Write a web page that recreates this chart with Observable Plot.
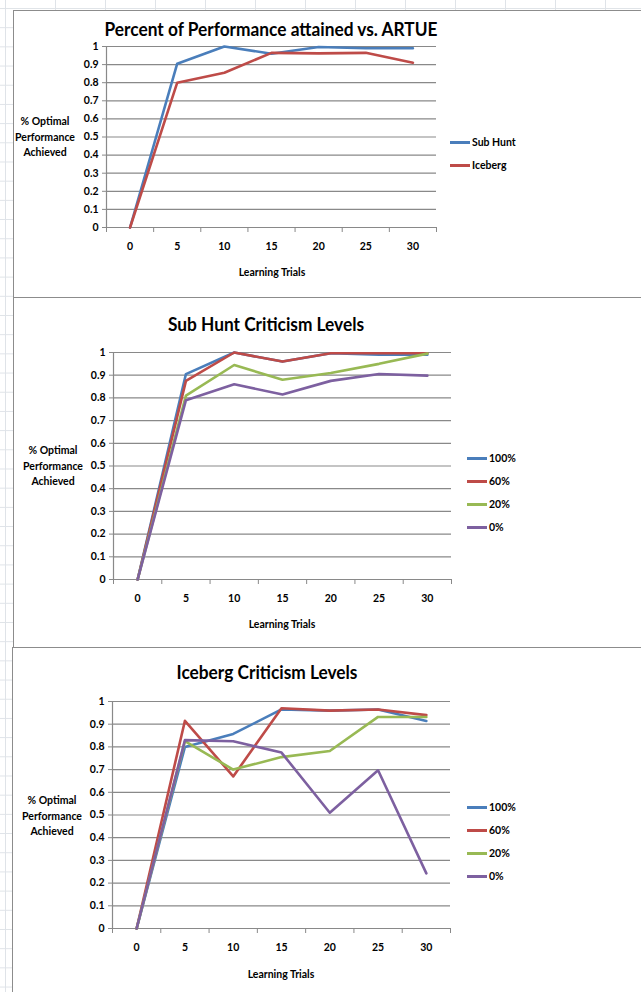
<!DOCTYPE html>
<html><head><meta charset="utf-8">
<script src="https://cdn.jsdelivr.net/npm/d3@7"></script>
<script src="https://cdn.jsdelivr.net/npm/@observablehq/plot@0.6"></script>
<style>
html,body{margin:0;padding:0;background:#fff;}
#page{position:relative;width:641px;height:992px;overflow:hidden;font-family:Lato,"Open Sans",sans-serif;color:#000;
  background-color:#fff;
  background-image:linear-gradient(to right,#dfe3e8 1px,transparent 1px),linear-gradient(to bottom,#dfe3e8 1px,transparent 1px);
  background-size:50px 19.2px;background-position:5px 8px;}
.box{position:absolute;background:#fff;border:1.5px solid #8c8c8c;box-sizing:border-box;}
.title{position:absolute;font-weight:700;font-size:19px;white-space:nowrap;transform:translate(-50%,-50%) scaleX(0.91);}
.ytitle{position:absolute;font-weight:700;font-size:10.5px;line-height:15.5px;text-align:center;transform:translate(-50%,-50%);white-space:nowrap;}
.xtitle{position:absolute;font-weight:700;font-size:10.5px;white-space:nowrap;transform:translate(-50%,-50%);}
.legend{position:absolute;font-size:10.5px;font-weight:700;}
.legend .item{display:flex;align-items:center;height:23px;}
.legend .sw{width:20px;height:3px;margin-right:2px;}
.plot{position:absolute;left:0;}
</style></head>
<body><div id="page"></div>
<script>
// ---------- data ----------
const trials = [0, 5, 10, 15, 20, 25, 30];
const yTicks = [0, 0.1, 0.2, 0.3, 0.4, 0.5, 0.6, 0.7, 0.8, 0.9, 1];

const titles = ["Percent of Performance attained vs. ARTUE", "Sub Hunt Criticism Levels", "Iceberg Criticism Levels"];
const yTitle = ["% Optimal", "Performance", "Achieved"];
const xTitle = "Learning Trials";

// Chart 1
const artueNames = ["Sub Hunt", "Iceberg"];
const artueSubHunt = [0, 0.905, 1.0, 0.96, 0.997, 0.99, 0.99];
const artueIceberg = [0, 0.80, 0.855, 0.965, 0.962, 0.965, 0.91];

// Chart 2 & 3
const levelNames = ["100%", "60%", "20%", "0%"];
const subHunt100 = [0, 0.905, 1.0, 0.96, 0.997, 0.99, 0.99];
const subHunt60  = [0, 0.875, 1.0, 0.96, 0.997, 0.997, 0.997];
const subHunt20  = [0, 0.81, 0.945, 0.88, 0.91, 0.95, 0.995];
const subHunt0   = [0, 0.79, 0.86, 0.815, 0.875, 0.905, 0.898];

const iceberg100 = [0, 0.80, 0.857, 0.965, 0.96, 0.965, 0.914];
const iceberg60  = [0, 0.915, 0.67, 0.97, 0.96, 0.965, 0.94];
const iceberg20  = [0, 0.825, 0.70, 0.755, 0.782, 0.932, 0.932];
const iceberg0   = [0, 0.83, 0.825, 0.775, 0.51, 0.697, 0.243];

const colors2 = ["#4a7ebb", "#be4b48"];
const colors4 = ["#4a7ebb", "#be4b48", "#98b954", "#7d60a0"];

// ---------- layout ----------
const page = document.getElementById("page");
function el(cls, css, html) {
  const d = document.createElement("div");
  d.className = cls;
  Object.assign(d.style, css);
  if (html != null) d.innerHTML = html;
  page.appendChild(d);
  return d;
}

const charts = [
  {box: {left: 13, top: 10, width: 640, height: 289}, title: titles[0], tx: 271, ty: 28,
   names: artueNames, series: [artueSubHunt, artueIceberg], colors: colors2,
   pl: 106, pr: 436, y1: 46, y0: 227, ytx: 45, yty: 137, xtx: 272, xty: 272, lx: 450, ly: 142},
  {box: {left: 13, top: 297, width: 640, height: 352}, title: titles[1], tx: 266, ty: 323,
   names: levelNames, series: [subHunt100, subHunt60, subHunt20, subHunt0], colors: colors4,
   pl: 113, pr: 451, y1: 352, y0: 579, ytx: 53, yty: 466, xtx: 282, xty: 624, lx: 467, ly: 458},
  {box: {left: 12, top: 647, width: 640, height: 360}, title: titles[2], tx: 267, ty: 671,
   names: levelNames, series: [iceberg100, iceberg60, iceberg20, iceberg0], colors: colors4,
   pl: 112, pr: 450, y1: 701, y0: 928, ytx: 52, yty: 816, xtx: 281, xty: 974, lx: 467, ly: 807}
];

const step = trials[1] - trials[0];
const xDomain = [trials[0] - step / 2, trials[trials.length - 1] + step / 2];
const bounds = trials.map(t => t - step / 2).concat([xDomain[1]]);
const grid = "#898989";

for (const c of charts) {
  el("box", {left: c.box.left + "px", top: c.box.top + "px", width: c.box.width + "px", height: c.box.height + "px"});
  el("title", {left: c.tx + "px", top: c.ty + "px"}, c.title);
  el("ytitle", {left: c.ytx + "px", top: c.yty + "px"}, yTitle.join("<br>"));
  el("xtitle", {left: c.xtx + "px", top: c.xty + "px"}, xTitle);

  const data = c.series.flatMap((vals, k) => trials.map((t, i) => ({trial: t, value: vals[i], name: c.names[k]})));
  const mt = 8, mb = 30;
  const svg = Plot.plot({
    width: 641,
    height: (c.y0 - c.y1) + mt + mb,
    marginTop: mt, marginBottom: mb, marginLeft: c.pl, marginRight: 641 - c.pr,
    style: {fontFamily: "Lato, 'Open Sans', sans-serif", fontSize: "10.5px", fontWeight: 700, color: "#000", background: "transparent", overflow: "visible"},
    x: {domain: xDomain, label: null},
    y: {domain: [0, 1], label: null},
    color: {domain: c.names, range: c.colors},
    marks: [
      Plot.ruleY(yTicks, {stroke: grid, strokeWidth: 1.2}),
      Plot.ruleX([xDomain[0]], {y1: 0, y2: 1, stroke: grid, strokeWidth: 1.2}),
      Plot.axisY({ticks: yTicks, tickSize: 4, tickPadding: 4, stroke: grid, label: null, tickFormat: d => String(d)}),
      Plot.axisX({ticks: bounds, tickSize: 5, stroke: grid, label: null, tickFormat: () => ""}),
      Plot.axisX({ticks: trials, tickSize: 0, tickPadding: 15, label: null, tickFormat: d => String(d)}),
      Plot.line(data, {x: "trial", y: "value", z: "name", stroke: "name", strokeWidth: 2.6})
    ]
  });
  svg.classList.add("plot");
  svg.style.top = (c.y1 - mt) + "px";
  page.appendChild(svg);

  const lg = el("legend", {left: c.lx + "px", top: (c.ly - 11.5) + "px"});
  c.names.forEach((n, k) => {
    const it = document.createElement("div");
    it.className = "item";
    it.innerHTML = `<span class="sw" style="background:${c.colors[k]}"></span><span>${n}</span>`;
    lg.appendChild(it);
  });
}
</script>
</body></html>
